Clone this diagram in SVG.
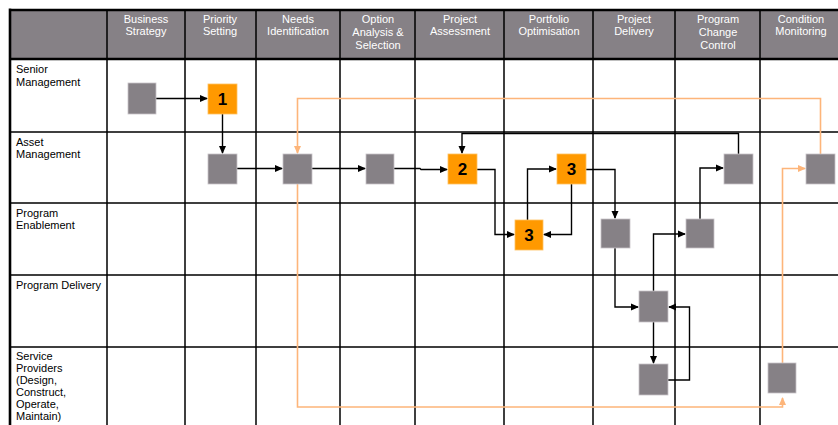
<svg xmlns="http://www.w3.org/2000/svg" width="838" height="425" viewBox="0 0 838 425">
<style>
.hd{font-family:"Liberation Sans",Arial,sans-serif;font-size:11px;fill:#ffffff;text-anchor:middle}
.rl{font-family:"Liberation Sans",Arial,sans-serif;font-size:11px;fill:#000000}
.grid{stroke:#000;stroke-width:1.5;fill:none}
.node{fill:#868186;stroke:#c8c4c8;stroke-width:0.8}
.onode{fill:#ff9900;stroke:#ffc060;stroke-width:0.8}
.num{font-family:"Liberation Sans",Arial,sans-serif;font-size:17px;font-weight:bold;fill:#000;text-anchor:middle}
.c{stroke:#000;stroke-width:1.4;fill:none}
.o{stroke:#fdb57a;stroke-width:1.6;fill:none}
</style>
<defs>
<marker id="ab" markerWidth="8" markerHeight="8" refX="7" refY="4" orient="auto" markerUnits="userSpaceOnUse"><path d="M0,0.5 L8,4 L0,7.5 Z" fill="#000"/></marker>
<marker id="ao" markerWidth="8" markerHeight="8" refX="7" refY="4" orient="auto" markerUnits="userSpaceOnUse"><path d="M0,0.5 L8,4 L0,7.5 Z" fill="#fdb57a"/></marker>
</defs>
<rect width="838" height="425" fill="#fff"/>
<g id="grid">
<rect x="10" y="10" width="830" height="49" fill="#868186"/>
<path class="grid" d="M107,10V425M185,10V425M256,10V425M340,10V425M415,10V425M504,10V425M593,10V425M675,10V425M760,10V425"/>
<path class="grid" d="M10,132H838M10,203H838M10,275H838M10,347H838"/>
<path d="M10,10H840M10,59H840M10,8.5V425" stroke="#000" stroke-width="2.6" fill="none"/>
</g>
<g id="header">
<text class="hd" x="146" y="23">Business</text><text class="hd" x="146" y="35">Strategy</text>
<text class="hd" x="220" y="23">Priority</text><text class="hd" x="220" y="35">Setting</text>
<text class="hd" x="298" y="23">Needs</text><text class="hd" x="298" y="35">Identification</text>
<text class="hd" x="378" y="23">Option</text><text class="hd" x="378" y="36">Analysis &amp;</text><text class="hd" x="378" y="49">Selection</text>
<text class="hd" x="460" y="23">Project</text><text class="hd" x="460" y="35">Assessment</text>
<text class="hd" x="549" y="23">Portfolio</text><text class="hd" x="549" y="35">Optimisation</text>
<text class="hd" x="634" y="23">Project</text><text class="hd" x="634" y="35">Delivery</text>
<text class="hd" x="718" y="23">Program</text><text class="hd" x="718" y="36">Change</text><text class="hd" x="718" y="49">Control</text>
<text class="hd" x="801" y="23">Condition</text><text class="hd" x="801" y="35">Monitoring</text>
</g>
<g id="rows">
<text class="rl" x="16" y="73">Senior</text><text class="rl" x="16" y="86">Management</text>
<text class="rl" x="16" y="146">Asset</text><text class="rl" x="16" y="158">Management</text>
<text class="rl" x="16" y="217">Program</text><text class="rl" x="16" y="229">Enablement</text>
<text class="rl" x="16" y="289">Program Delivery</text>
<text class="rl" x="16" y="360">Service</text><text class="rl" x="16" y="372">Providers</text><text class="rl" x="16" y="384">(Design,</text><text class="rl" x="16" y="396">Construct,</text><text class="rl" x="16" y="408">Operate,</text><text class="rl" x="16" y="420">Maintain)</text>
</g>
<g id="connectors">
<path class="c" d="M156,98.5H207" marker-end="url(#ab)"/>
<path class="c" d="M222.5,114V153" marker-end="url(#ab)"/>
<path class="c" d="M237,168.5H282" marker-end="url(#ab)"/>
<path class="c" d="M312,168.5H365" marker-end="url(#ab)"/>
<path class="c" d="M394,168.5H420L421,169.5H447" marker-end="url(#ab)"/>
<path class="c" d="M477,169.5H495V234.5H514" marker-end="url(#ab)"/>
<path class="c" d="M527.5,220V169H556" marker-end="url(#ab)"/>
<path class="c" d="M571.5,184V234.5H544" marker-end="url(#ab)"/>
<path class="c" d="M586,169.5H615V218" marker-end="url(#ab)"/>
<path class="c" d="M615,248V307H638" marker-end="url(#ab)"/>
<path class="c" d="M653.5,291V234H685" marker-end="url(#ab)"/>
<path class="c" d="M700,219V168H723" marker-end="url(#ab)"/>
<path class="c" d="M738.5,154V133.5H462V153" marker-end="url(#ab)"/>
<path class="c" d="M653.5,322V363" marker-end="url(#ab)"/>
<path class="c" d="M668,380H689.5V307H669" marker-end="url(#ab)"/>
<path class="o" d="M820.5,154V98.5H297.5V153" marker-end="url(#ao)"/>
<path class="o" d="M297.5,184V407H782.5V398" marker-end="url(#ao)"/>
<path class="o" d="M782.5,363V168.5H805" marker-end="url(#ao)"/>
</g>
<g id="n-sm"><rect class="node" x="128" y="83" width="28" height="31"/></g>
<g id="n-1"><rect class="onode" x="208" y="84" width="29" height="30"/><text class="num" x="222.5" y="105">1</text></g>
<g id="n-am-ps"><rect class="node" x="208" y="154" width="29" height="30"/></g>
<g id="n-am-ni"><rect class="node" x="283" y="154" width="29" height="30"/></g>
<g id="n-am-oa"><rect class="node" x="366" y="154" width="28" height="30"/></g>
<g id="n-2"><rect class="onode" x="448" y="154" width="29" height="30"/><text class="num" x="462.5" y="175">2</text></g>
<g id="n-3a"><rect class="onode" x="557" y="154" width="29" height="30"/><text class="num" x="571.5" y="175">3</text></g>
<g id="n-3b"><rect class="onode" x="515" y="220" width="28" height="30"/><text class="num" x="529" y="241">3</text></g>
<g id="n-pe-pd"><rect class="node" x="601" y="219" width="29" height="29"/></g>
<g id="n-pe-pcc"><rect class="node" x="686" y="219" width="28" height="29"/></g>
<g id="n-am-pcc"><rect class="node" x="724" y="154" width="29" height="30"/></g>
<g id="n-am-cm"><rect class="node" x="806" y="154" width="29" height="30"/></g>
<g id="n-pd"><rect class="node" x="639" y="291" width="29" height="31"/></g>
<g id="n-sp-pd"><rect class="node" x="639" y="364" width="29" height="31"/></g>
<g id="n-sp-cm"><rect class="node" x="768" y="363" width="28" height="30"/></g>
</svg>
